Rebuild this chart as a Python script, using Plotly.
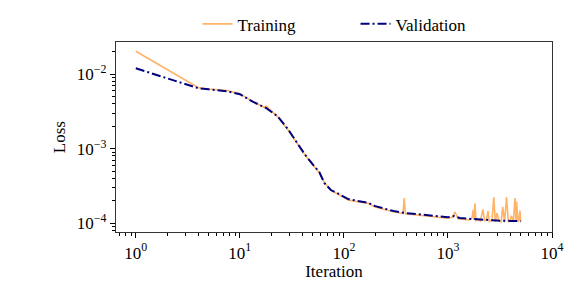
import plotly.graph_objects as go

# validation loss
val_iter = [1, 2, 3, 4, 5, 7.5, 10, 13, 18, 23, 29, 35, 42, 50, 58, 65, 75, 90,
            110, 140, 170, 200, 250, 300, 400, 600, 1000, 1150, 1300, 1500,
            2000, 3000, 4000, 5000]
val_loss = [0.01205, 0.00884, 0.00722, 0.00649, 0.00629, 0.00591, 0.00540,
            0.00435, 0.00350, 0.00273, 0.00183, 0.00122, 0.000843, 0.000619,
            0.000484, 0.000345, 0.000278, 0.000245, 0.000210, 0.000197,
            0.000188, 0.000169, 0.000154, 0.000145, 0.000136, 0.000128,
            0.000120, 0.000124, 0.000117, 0.000115, 0.000111, 0.000108,
            0.000107, 0.000106]

# training loss, noisier with spikes late in training
train_iter = [1, 4, 5, 7.5, 10, 13, 17, 18, 19, 23, 29, 35, 42, 50, 58, 65,
              75, 90, 110, 140, 170, 200, 250, 300, 370, 380, 390, 450, 600,
              800, 1000, 1100, 1170, 1250, 1400, 1600, 1700, 1750, 1780, 1820,
              1860, 1950, 2050, 2170, 2250, 2350, 2425, 2500, 2650, 2760,
              2850, 2960, 3100, 3250, 3360, 3500, 3660, 3800, 3950, 4080,
              4250, 4410, 4500, 4570, 4700, 4800, 4920, 5000]
train_loss = [0.0204, 0.0066, 0.00635, 0.00605, 0.00550, 0.00440, 0.00360,
              0.00372, 0.00345, 0.00270, 0.00180, 0.00121, 0.000835, 0.000615,
              0.000480, 0.000350, 0.000275, 0.000240, 0.000205, 0.000192,
              0.000185, 0.000165, 0.000150, 0.000142, 0.000134, 0.000217,
              0.000133, 0.000130, 0.000124, 0.000118, 0.000116, 0.000120,
              0.000141, 0.000114, 0.000112, 0.000110, 0.000116, 0.000150,
              0.000110, 0.000185, 0.000108, 0.000112, 0.000107, 0.000153,
              0.000106, 0.000112, 0.000145, 0.000105, 0.000110, 0.000223,
              0.000104, 0.000136, 0.000106, 0.000104, 0.000165, 0.000103,
              0.000223, 0.000104, 0.000108, 0.000125, 0.000103, 0.000217,
              0.000110, 0.000193, 0.000104, 0.000108, 0.000147, 0.000104]

x_tickvals = [1, 10, 100, 1000, 10000]
x_ticktext = ["10<sup>0</sup>", "10<sup>1</sup>", "10<sup>2</sup>",
              "10<sup>3</sup>", "10<sup>4</sup>"]
y_tickvals = [1e-4, 1e-3, 1e-2]
y_ticktext = ["10<sup>\u22124</sup>", "10<sup>\u22123</sup>", "10<sup>\u22122</sup>"]

# minor tick positions (2..9 of each decade)
x_minor = [m * 10 ** d for d in range(-1, 4) for m in range(2, 10)]
y_minor = [m * 10.0 ** d for d in range(-5, -1) for m in range(2, 10)]

font = dict(family="Liberation Serif, Times New Roman, serif", size=17,
            color="black")

fig = go.Figure()
fig.add_trace(go.Scatter(x=train_iter, y=train_loss, mode="lines",
                         name="Training",
                         line=dict(color="#ffb366", width=1.6)))
fig.add_trace(go.Scatter(x=val_iter, y=val_loss, mode="lines",
                         name="Validation",
                         line=dict(color="#000080", width=2,
                                   dash="9px,3px,2px,3px")))

axis_common = dict(type="log", showgrid=False, zeroline=False,
                   showline=True, linecolor="#333333", linewidth=1.2,
                   mirror=True, ticks="outside", ticklen=5, tickwidth=1,
                   tickcolor="black", tickfont=font, automargin=False)

fig.update_layout(
    width=581, height=286,
    margin=dict(l=116, r=29, t=42, b=54),
    paper_bgcolor="white", plot_bgcolor="white",
    font=font,
    showlegend=True,
    legend=dict(orientation="h", xref="container", yref="container",
                x=0.34, xanchor="left", y=0.915, yanchor="middle",
                font=font, bgcolor="rgba(0,0,0,0)", entrywidth=113),
    xaxis=dict(axis_common, range=[-0.19, 4], tickvals=x_tickvals,
               ticktext=x_ticktext,
               minor=dict(tickvals=x_minor, ticks="outside", ticklen=2.5,
                          tickwidth=0.8, tickcolor="black"),
               title=dict(text="Iteration", font=font, standoff=2)),
    yaxis=dict(axis_common, range=[-4.12, -1.57], tickvals=y_tickvals,
               ticktext=y_ticktext,
               minor=dict(tickvals=y_minor, ticks="outside", ticklen=2.5,
                          tickwidth=0.8, tickcolor="black"),
               title=dict(text="Loss", font=font, standoff=6)),
)

# drop the browser's default page margin so the figure sits at the corner
fig.write_html("out.html", config={"displayModeBar": False},
               post_script="document.body.style.margin='0';")
